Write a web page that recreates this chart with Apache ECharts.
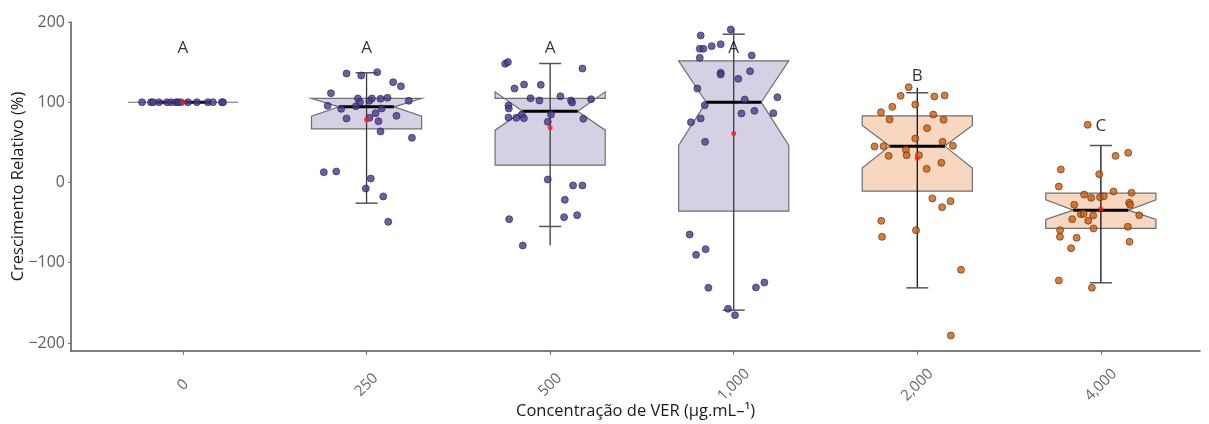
<!DOCTYPE html>
<html>
<head>
<meta charset="utf-8">
<script src="https://cdn.jsdelivr.net/npm/echarts@6/dist/echarts.min.js"></script>
<style>
html,body{margin:0;padding:0;background:#fff;}
#c{width:1209px;height:424px;}
</style>
</head>
<body>
<div id="c"></div>
<script>
// ---- data ----
const categories = ['0', '250', '500', '1,000', '2,000', '4,000'];
const q1 = [100, 66.9, 21.6, -35.7, -10.8, -57.3];
const q3 = [100, 104.7, 104.7, 151.6, 83.1, -13.3];
const medians = [100, 94.3, 88.9, 100.1, 45.3, -34.5];
const notchLow = [100, 82.6, 65.2, 46.1, 17.9, -46.1];
const notchHigh = [100, 104.7, 113.0, 151.6, 71.0, -21.6];
const whiskerLineLow = [100, -25.8, -78.5, -159.1, -131.3, -125];
const whiskerLineHigh = [100, 136.7, 148.3, 190.7, 118, 46.1];
const capLow = [100, -25.8, -54.8, -159.1, -131.3, -125];
const capHigh = [100, 136.7, 148.3, 184.8, 111.8, 46.1];
const means = [100, 78.1, 68.1, 61.1, 30.3, -32.8];
const letters = ['A', 'A', 'A', 'A', 'B', 'C'];
const letterY = [167, 167, 167, 167, 132, 70];
const yTicks = [-200, -100, 0, 100, 200];

// observations per group (value) and horizontal jitter (in category units)
const pts0 = [100,100,100,100,100,100,100,100,100,100,100,100,100,100,100];
const jit0 = [-0.223,-0.174,-0.163,-0.131,-0.087,-0.065,-0.038,-0.027,-0.011,0.027,0.076,0.136,0.163,0.212,0.218];
const pts250 = [135.8,133.3,137.5,125,120,111.3,104.7,100.1,101.8,104.7,104.3,105.5,101.8,95.6,91.8,95.1,92.2,86.4,83.1,79.8,80.6,76.4,63.6,55.7,12.8,13.7,5,-7.5,-17.4,-49];
const jit250 = [-0.109,-0.029,0.058,0.145,0.187,-0.194,-0.047,-0.036,0.015,0.029,0.076,0.114,0.230,-0.212,-0.138,-0.058,0.082,0.049,0.163,-0.109,0.015,0.065,0.076,0.247,-0.233,-0.165,0.023,-0.004,0.091,0.118];
const pts500 = [147.9,150,142,117.1,122.1,121.7,105,102.2,107.5,102.2,99.7,103.8,96,92.2,81,80.6,84.7,80.1,84.7,75.6,79.4,3.7,-3.7,-3.7,-21.6,-45.7,-43.2,-40.7,-78.5];
const jit500 = [-0.245,-0.230,0.176,-0.194,-0.142,-0.051,-0.107,-0.058,0.056,0.114,0.120,0.223,-0.227,-0.225,-0.227,-0.184,-0.154,-0.143,0.005,-0.013,0.181,-0.013,0.125,0.176,0.080,-0.223,0.076,0.147,-0.149];
const pts1000 = [190.7,183.2,166.6,166.6,169.9,172.3,155.3,158.3,136.7,134.6,138.7,129.2,117.1,106.3,103.4,96.3,86,89.3,86.4,75.1,79.8,50.7,-64.8,-83.1,-90.1,-131.2,-130.8,-124.6,-157.4,-165.3];
const jit1000 = [-0.016,-0.180,-0.185,-0.165,-0.120,-0.071,-0.185,0.098,-0.071,-0.071,0.089,0.025,-0.198,0.238,0.060,-0.158,0.042,0.113,0.216,-0.233,-0.180,-0.156,-0.240,-0.153,-0.205,-0.138,0.121,0.167,-0.031,0.007];
const pts2000 = [118.8,108,107.2,108.4,94.3,97.2,87.6,84.7,78.5,78.1,67.7,54.8,50.7,44.9,45.3,45.7,40.7,33.2,34,34,24.5,17,-19.9,-23.3,-30.8,-47.8,-59.4,-67.7,-108.8,-190.7];
const jit2000 = [-0.047,-0.091,0.093,0.149,-0.136,-0.011,-0.198,0.087,-0.151,0.143,0.053,-0.011,0.138,-0.233,-0.184,0.194,-0.062,-0.156,-0.058,0.009,0.131,0.051,0.082,0.181,0.135,-0.196,-0.007,-0.192,0.238,0.183];
const pts4000 = [71.9,37,33.2,10.4,16.2,-5,-11.2,-12.8,-15,-19.1,-18.3,-17.1,-27.8,-25.3,-27.8,-39.5,-39,-41.1,-40.7,-45.7,-47.7,-57.3,-55.2,-59.4,-67.7,-68.9,-73.9,-81.9,-122.1,-131.2];
const jit4000 = [-0.072,0.149,0.080,-0.009,-0.218,-0.229,0.069,0.167,-0.091,-0.053,-0.005,0.016,-0.145,0.154,0.160,-0.109,-0.094,-0.042,0.209,-0.156,-0.069,-0.040,0.147,-0.222,-0.223,-0.132,0.156,-0.162,-0.229,-0.049];

const groupPts = [pts0, pts250, pts500, pts1000, pts2000, pts4000];
const groupJit = [jit0, jit250, jit500, jit1000, jit2000, jit4000];

// ---- styles ----
const purple = {fill: '#d6d0e5', pt: '#4b3a86', ptBorder: '#2b1f57', whisker: '#3a3a3a'};
const orange = {fill: '#f7d7bf', pt: '#c85f10', ptBorder: '#5b2a06', whisker: '#111111'};
const palette = [purple, purple, purple, purple, orange, orange];

const boxData = categories.map((c, i) => [i, q1[i], q3[i], medians[i], notchLow[i], notchHigh[i], whiskerLineLow[i], whiskerLineHigh[i], capLow[i], capHigh[i]]);

const scatterData = [];
groupPts.forEach((arr, i) => {
  arr.forEach((v, k) => {
    scatterData.push({
      value: [i + groupJit[i][k], v],
      itemStyle: {color: palette[i].pt, borderColor: palette[i].ptBorder, borderWidth: 0.8}
    });
  });
});

const HW = 0.30;      // box half width (category units)
const CAP = 0.06;     // cap half width

const chart = echarts.init(document.getElementById('c'), null, {renderer: 'canvas'});
chart.setOption({
  animation: false,
  grid: {left: 71, right: 9, top: 22, bottom: 73, outerBoundsMode: 'none', containLabel: false},
  xAxis: {
    type: 'value', min: -0.61, max: 5.54,
    name: 'Concentração de VER (μg.mL–¹)',
    nameLocation: 'middle', nameGap: 52, nameMoveOverlap: false,
    nameTextStyle: {fontFamily: 'Open Sans', fontSize: 16.5, color: '#1a1a1a'},
    axisLine: {show: true, onZero: false, lineStyle: {color: '#555', width: 1.5}},
    axisTick: {show: true, length: 4, lineStyle: {color: '#777'}, customValues: [0,1,2,3,4,5]},
    axisLabel: {
      customValues: [0,1,2,3,4,5],
      formatter: v => categories[Math.round(v)],
      rotate: 45, margin: 34, align: 'center', verticalAlign: 'middle',
      fontFamily: 'Open Sans', fontSize: 15, color: '#666'
    },
    splitLine: {show: false}
  },
  yAxis: {
    type: 'value', min: -210, max: 200,
    name: 'Crescimento Relativo (%)',
    nameLocation: 'middle', nameGap: 44, nameMoveOverlap: false,
    nameTextStyle: {fontFamily: 'Open Sans', fontSize: 16.5, color: '#1a1a1a'},
    axisLine: {show: true, onZero: false, lineStyle: {color: '#555', width: 1.5}},
    axisTick: {show: true, length: 3, lineStyle: {color: '#777'}, customValues: yTicks},
    axisLabel: {customValues: yTicks, margin: 6, fontFamily: 'Open Sans', fontSize: 16, color: '#5e5e5e',
      formatter: v => (v < 0 ? '\u2212' + Math.abs(v) : String(v))},
    splitLine: {show: false}
  },
  series: [
    {
      type: 'custom',
      data: boxData,
      encode: {x: 0, y: [1, 2, 6, 7]},
      clip: false,
      z: 2,
      renderItem: function (params, api) {
        const i = api.value(0);
        const vq1 = api.value(1), vq3 = api.value(2), vmed = api.value(3);
        const vnl = api.value(4), vnu = api.value(5);
        const wl = api.value(6), wh = api.value(7), cl = api.value(8), ch = api.value(9);
        const P = (x, y) => api.coord([x, y]);
        const ind = HW * 0.5;
        const xmin = i - HW, xmax = i + HW;
        const poly = [P(xmin, vq3), P(xmin, vnu), P(xmin + ind, vmed), P(xmin, vnl), P(xmin, vq1),
                      P(xmax, vq1), P(xmax, vnl), P(xmax - ind, vmed), P(xmax, vnu), P(xmax, vq3)];
        const col = palette[i];
        const children = [
          {type: 'polygon', shape: {points: poly},
           style: {fill: col.fill, stroke: '#6f6f6f', lineWidth: 1.2}},
        ];
        if (wh !== wl) {
          const a = P(i, wl), b = P(i, wh);
          children.push({type: 'line', shape: {x1: a[0], y1: a[1], x2: b[0], y2: b[1]},
            style: {stroke: col.whisker, lineWidth: 1.3}});
          const c1 = P(i - CAP, ch), c2 = P(i + CAP, ch);
          children.push({type: 'line', shape: {x1: c1[0], y1: c1[1], x2: c2[0], y2: c2[1]},
            style: {stroke: '#555', lineWidth: 1.5}});
          const d1 = P(i - CAP, cl), d2 = P(i + CAP, cl);
          children.push({type: 'line', shape: {x1: d1[0], y1: d1[1], x2: d2[0], y2: d2[1]},
            style: {stroke: '#555', lineWidth: 1.5}});
        }
        const m1 = P(xmin + ind, vmed), m2 = P(xmax - ind, vmed);
        children.push({type: 'line', shape: {x1: m1[0], y1: m1[1], x2: m2[0], y2: m2[1]},
          style: {stroke: '#000', lineWidth: 3}});
        return {type: 'group', children: children};
      }
    },
    {
      type: 'scatter',
      data: scatterData,
      symbol: 'circle', symbolSize: 7,
      z: 3,
      silent: true
    },
    {
      type: 'scatter',
      data: means.map((m, i) => [i, m]),
      symbol: 'circle', symbolSize: 5,
      itemStyle: {color: '#ff1a1a'},
      z: 4
    },
    {
      type: 'scatter',
      data: letterY.map((y, i) => [i, y]),
      symbolSize: 0,
      z: 5,
      label: {
        show: true, position: 'inside',
        formatter: p => letters[p.dataIndex],
        fontFamily: 'Open Sans', fontSize: 17, color: '#000'
      }
    }
  ]
});
</script>
</body>
</html>
